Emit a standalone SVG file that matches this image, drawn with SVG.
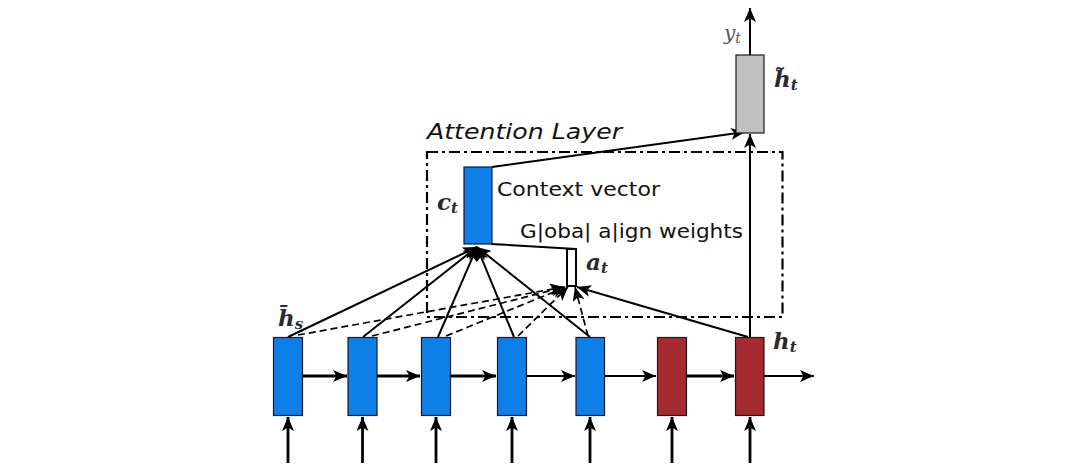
<svg xmlns="http://www.w3.org/2000/svg" width="1068" height="476" viewBox="0 0 1068 476">
<style>
.blue{fill:#0f7fe8;stroke:#1a1a2a;stroke-width:1.2}
.red{fill:#a52a2f;stroke:#1a1a1a;stroke-width:1.2}
.gray{fill:#c0c0c0;stroke:#1a1a1a;stroke-width:1.2}
.ln{stroke:#000;stroke-width:2;fill:none}
.thick{stroke:#000;stroke-width:2.8;fill:none}
.dash{stroke:#000;stroke-width:1.7;fill:none;stroke-dasharray:7 4}
.att{stroke:#000;stroke-width:2.2;fill:none;stroke-dasharray:11 4 3 4}
.lbl{font-family:"DejaVu Sans",sans-serif;fill:#111}
.m{font-family:"DejaVu Serif",serif;font-style:italic;font-weight:bold;font-size:23px;fill:#2a2a35}
.sub{font-size:15px}
.y{font-family:"DejaVu Serif",serif;font-style:italic;font-size:20px;fill:#555}
</style>
<defs>
<marker id="ah" markerWidth="15" markerHeight="12" refX="14" refY="6" orient="auto" markerUnits="userSpaceOnUse">
<path d="M0,0 L14,6 L0,12 L3.5,6 z" fill="#000"/>
</marker>
</defs>
<g id="attention-layer">
<rect class="att" x="427" y="152" width="355.5" height="165"/>
<text class="lbl" x="427" y="139" font-size="22" font-style="italic" textLength="195" lengthAdjust="spacingAndGlyphs">Attention Layer</text>
</g>
<g id="connectors">
<line class="thick" x1="303" y1="376" x2="347" y2="376" marker-end="url(#ah)"/>
<line class="thick" x1="377" y1="376" x2="420" y2="376" marker-end="url(#ah)"/>
<line class="thick" x1="450" y1="376" x2="496" y2="376" marker-end="url(#ah)"/>
<line class="ln" x1="527" y1="376" x2="575" y2="376" marker-end="url(#ah)"/>
<line class="ln" x1="604" y1="376" x2="656" y2="376" marker-end="url(#ah)"/>
<line class="thick" x1="687" y1="376" x2="734" y2="376" marker-end="url(#ah)"/>
<line class="ln" x1="764" y1="376" x2="814" y2="376" marker-end="url(#ah)"/>
<line class="thick" x1="288" y1="463" x2="288" y2="417" marker-end="url(#ah)"/>
<line class="thick" x1="362.5" y1="463" x2="362.5" y2="417" marker-end="url(#ah)"/>
<line class="thick" x1="436" y1="463" x2="436" y2="417" marker-end="url(#ah)"/>
<line class="thick" x1="512" y1="463" x2="512" y2="417" marker-end="url(#ah)"/>
<line class="thick" x1="590" y1="463" x2="590" y2="417" marker-end="url(#ah)"/>
<line class="thick" x1="672" y1="463" x2="672" y2="417" marker-end="url(#ah)"/>
<line class="thick" x1="750" y1="463" x2="750" y2="417" marker-end="url(#ah)"/>
<line class="dash" x1="298" y1="335" x2="564" y2="287" marker-end="url(#ah)"/>
<line class="dash" x1="372" y1="336" x2="565" y2="287" marker-end="url(#ah)"/>
<line class="dash" x1="446" y1="336" x2="566" y2="287" marker-end="url(#ah)"/>
<line class="dash" x1="518" y1="336" x2="568" y2="287" marker-end="url(#ah)"/>
<line class="dash" x1="588" y1="336" x2="575" y2="287" marker-end="url(#ah)"/>
<line class="ln" x1="288" y1="337" x2="477" y2="247" marker-end="url(#ah)"/>
<line class="ln" x1="363" y1="337" x2="477" y2="247" marker-end="url(#ah)"/>
<line class="ln" x1="438" y1="337" x2="477" y2="247" marker-end="url(#ah)"/>
<line class="ln" x1="514" y1="337" x2="477" y2="247" marker-end="url(#ah)"/>
<line class="ln" x1="590" y1="337" x2="477" y2="247" marker-end="url(#ah)"/>
<line class="ln" x1="748" y1="337" x2="577" y2="287" marker-end="url(#ah)"/>
<line class="ln" x1="491" y1="244" x2="576" y2="249"/>
<rect class="ln" x="567" y="249" width="9" height="37" fill="#fff"/>
<line class="ln" x1="750" y1="337" x2="750" y2="134" marker-end="url(#ah)"/>
<line class="ln" x1="492" y1="167" x2="745" y2="132" marker-end="url(#ah)"/>
<line class="ln" x1="750" y1="55" x2="750" y2="8" marker-end="url(#ah)"/>
</g>
<g id="enc1"><rect class="blue" x="273.5" y="337.5" width="29" height="78"/></g>
<g id="enc2"><rect class="blue" x="348" y="337.5" width="29" height="78"/></g>
<g id="enc3"><rect class="blue" x="421.5" y="337.5" width="29" height="78"/></g>
<g id="enc4"><rect class="blue" x="497.5" y="337.5" width="29" height="78"/></g>
<g id="enc5"><rect class="blue" x="576" y="337.5" width="28.5" height="78"/></g>
<g id="dec1"><rect class="red" x="657.5" y="337.5" width="29" height="78"/></g>
<g id="dec2"><rect class="red" x="735.5" y="337.5" width="28.5" height="78"/></g>
<g id="context">
<rect class="blue" x="464" y="167" width="28" height="77"/>
<text class="lbl" x="497" y="196" font-size="20" textLength="163" lengthAdjust="spacingAndGlyphs">Context vector</text>
<text class="m" x="437" y="210">c<tspan class="sub" dy="3">t</tspan></text>
</g>
<g id="align-weights">
<text class="lbl" x="520" y="238" font-size="20" textLength="223" lengthAdjust="spacingAndGlyphs">G|oba| a|ign weights</text>
<text class="m" x="586" y="270">a<tspan class="sub" dy="3">t</tspan></text>
</g>
<g id="attn-hidden">
<rect class="gray" x="736" y="55" width="28" height="78"/>
<text class="m" x="774" y="87">h̃<tspan class="sub" dy="3">t</tspan></text>
<text class="y" x="724" y="40">y<tspan font-size="14" dy="3">t</tspan></text>
</g>
<g id="labels">
<text class="m" x="278" y="326">h̄<tspan class="sub" dy="3">s</tspan></text>
<text class="m" x="773" y="349">h<tspan class="sub" dy="3">t</tspan></text>
</g>
</svg>
